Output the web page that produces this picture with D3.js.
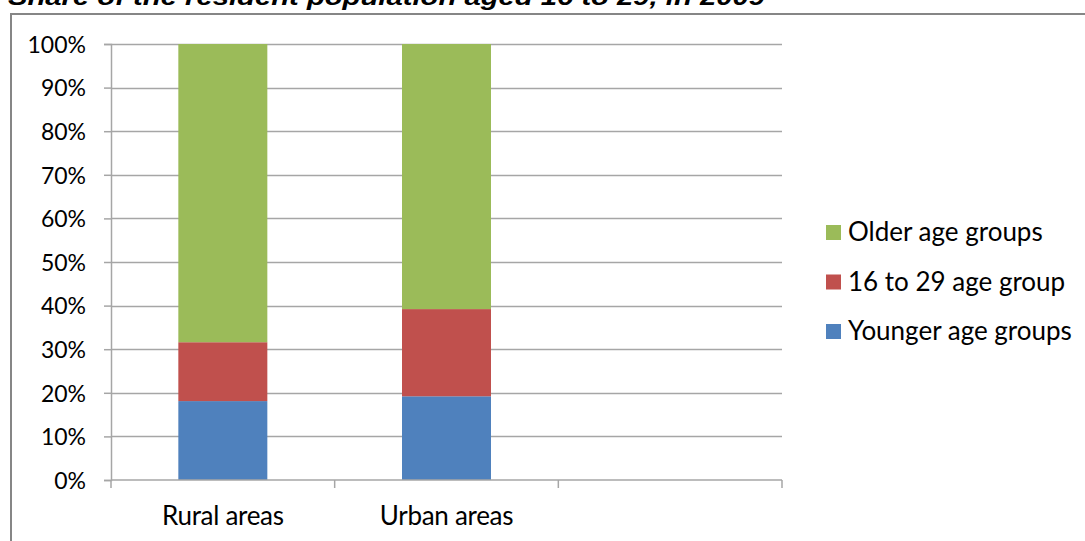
<!DOCTYPE html>
<html>
<head>
<meta charset="utf-8">
<script src="https://cdn.jsdelivr.net/npm/d3@7"></script>
<style>
  html, body { margin: 0; padding: 0; background: #fff; }
  svg { display: block; }
</style>
</head>
<body>
<svg id="chart" width="1085" height="541"></svg>
<script>
// Stacked shares (%) per area type
const categories = ["Rural areas", "Urban areas", ""];
const seriesNames = ["Younger age groups", "16 to 29 age group", "Older age groups"];
const younger = [18.1, 19.2];
const group16to29 = [13.5, 20.0];
const older = [68.4, 60.8];
const yTicks = [0, 10, 20, 30, 40, 50, 60, 70, 80, 90, 100];
const colors = ["#4f81bd", "#c0504d", "#9bbb59"];
const title = "Share of the resident population aged 16 to 29, in 2009";

const svg = d3.select("#chart");
const W = 1085, H = 541;

// Chart frame
svg.append("rect")
  .attr("x", 11).attr("y", 14)
  .attr("width", W + 20).attr("height", H)
  .attr("fill", "#fff")
  .attr("stroke", "#868686").attr("stroke-width", 2);

// Title (sits on the frame's top edge)
svg.append("text")
  .attr("x", 8).attr("y", 5)
  .attr("font-family", "Liberation Sans, Arial, sans-serif")
  .attr("font-weight", "bold").attr("font-style", "italic")
  .attr("font-size", 24)
  .attr("fill", "#000")
  .attr("textLength", 757).attr("lengthAdjust", "spacingAndGlyphs")
  .text(title);

const plot = { left: 111, right: 782, top: 44, bottom: 480 };
const slot = (plot.right - plot.left) / categories.length;
const barW = 89;

const y = d3.scaleLinear().domain([0, 100]).range([plot.bottom, plot.top]);
const xPos = d3.scaleLinear().domain([0, categories.length]).range([plot.left, plot.right]);

const font = "Lato, 'Open Sans', sans-serif";
const gridColor = "#a6a6a6";

// Horizontal gridlines
svg.append("g")
  .selectAll("line")
  .data(yTicks.slice(1))
  .join("line")
  .attr("x1", plot.left).attr("x2", plot.right)
  .attr("y1", d => Math.round(y(d)) + 0.5).attr("y2", d => Math.round(y(d)) + 0.5)
  .attr("stroke", gridColor).attr("stroke-width", 1.5);

// Stacked bars
const rows = [0, 1].map(i => ({ i, v: [younger[i], group16to29[i], older[i]] }));
const stack = d3.stack().keys([0, 1, 2]).value((d, k) => d.v[k]);
const layers = stack(rows);

svg.append("g")
  .selectAll("g")
  .data(layers)
  .join("g")
  .attr("fill", (d, k) => colors[k])
  .selectAll("rect")
  .data(d => d)
  .join("rect")
  .attr("x", d => xPos(d.data.i + 0.5) - barW / 2)
  .attr("width", barW)
  .attr("y", d => y(d[1]))
  .attr("height", d => y(d[0]) - y(d[1]));

// Y axis
const yAxis = svg.append("g")
  .attr("transform", `translate(${plot.left},0)`)
  .call(d3.axisLeft(y).tickValues(yTicks).tickSize(7).tickPadding(18).tickFormat(d => d + "%"));
yAxis.select(".domain").attr("stroke", gridColor).attr("stroke-width", 1.5);
yAxis.selectAll(".tick line").attr("stroke", gridColor).attr("stroke-width", 1.5);
yAxis.selectAll(".tick text")
  .attr("font-family", font).attr("font-size", 23).attr("fill", "#000")
  .attr("dy", "0.36em");

// X axis (three slots, last one empty)
const xg = svg.append("g");
xg.append("line")
  .attr("x1", plot.left).attr("x2", plot.right)
  .attr("y1", plot.bottom).attr("y2", plot.bottom)
  .attr("stroke", gridColor).attr("stroke-width", 1.5);
xg.selectAll("line.tk")
  .data(d3.range(categories.length + 1))
  .join("line").attr("class", "tk")
  .attr("x1", d => xPos(d)).attr("x2", d => xPos(d))
  .attr("y1", plot.bottom).attr("y2", plot.bottom + 8)
  .attr("stroke", gridColor).attr("stroke-width", 1.5);
xg.selectAll("text")
  .data(categories)
  .join("text")
  .attr("x", (d, i) => xPos(i + 0.5))
  .attr("y", 525)
  .attr("text-anchor", "middle")
  .attr("font-family", font).attr("font-size", 26).attr("fill", "#000")
  .attr("letter-spacing", -0.3)
  .text(d => d);

// Legend (top to bottom: older, 16-29, younger)
const legend = svg.append("g");
const legendItems = [2, 1, 0];
legend.selectAll("g")
  .data(legendItems)
  .join("g")
  .attr("transform", (d, j) => `translate(826, ${232 + j * 49.5})`)
  .each(function (k) {
    const g = d3.select(this);
    g.append("rect").attr("x", 0).attr("y", -7).attr("width", 15).attr("height", 15)
      .attr("fill", colors[k]);
    g.append("text").attr("x", 22).attr("y", 0).attr("dy", "0.36em")
      .attr("font-family", font).attr("font-size", 26).attr("fill", "#000")
      .text(seriesNames[k]);
  });
</script>
</body>
</html>
